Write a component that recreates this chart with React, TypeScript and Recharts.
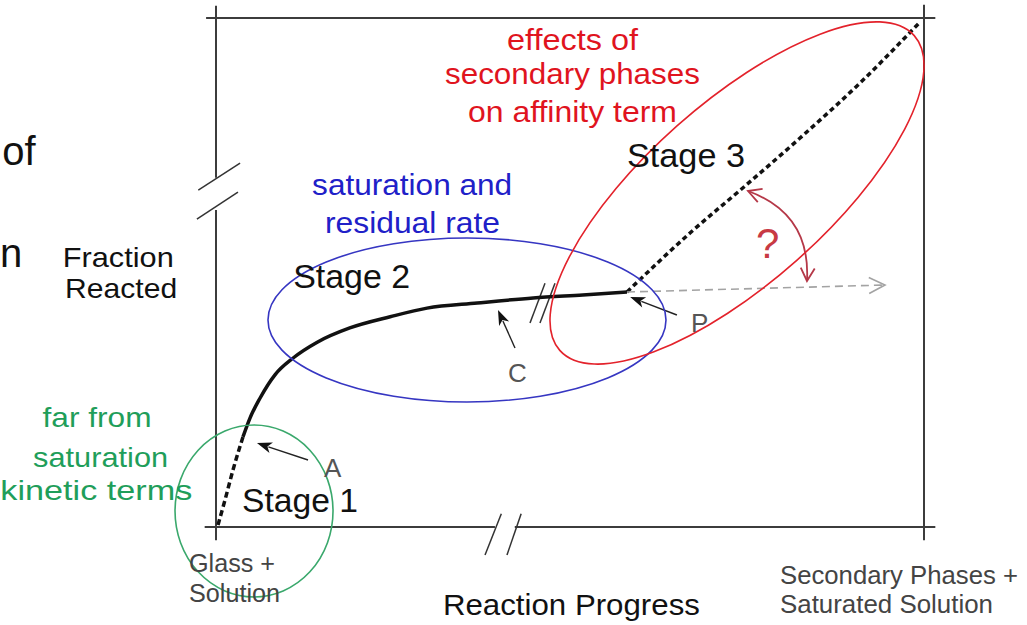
import React from 'react';
import { ComposedChart, Line, XAxis, YAxis, ReferenceLine, ReferenceDot } from 'recharts';

// ---- curve values (x = reaction progress, y = fraction reacted, 0..100) ----
const stage1X = [0.28, 1.27, 2.4, 3.81];
const stage1Y = [0.39, 5.3, 11.2, 17.7];
const stage2X = [3.81, 4.8, 6.21, 8.33, 10.9, 14.3, 18.9, 24.6, 29.8, 36.9, 44.8, 51.8, 58.05];
const stage2Y = [17.7, 21.4, 25.3, 29.9, 33.2, 36.3, 39.1, 41.3, 43.0, 44.0, 45.0, 45.6, 46.17];
const stage3X = [58.05, 66.95, 74.72, 82.49, 90.96, 99.44];
const stage3Y = [46.17, 57.76, 66.99, 76.42, 87.23, 99.21];

const toPoints = (xs: number[], ys: number[]) => xs.map((x, i) => ({ x, y: ys[i] }));
const stage1 = toPoints(stage1X, stage1Y);
const stage2 = toPoints(stage2X, stage2Y);
const stage3 = toPoints(stage3X, stage3Y);

// ---- frame (axis lines with breaks), data coordinates ----
const frameSegments: [number, number][][] = [
  [[0, 68.6], [0, 102.4]],
  [[0, -2.6], [0, 62.3]],
  [[-1.4, 100], [101.6, 100]],
  [[100, -2.6], [100, 102.6]],
  [[-1.6, 0], [39.4, 0]],
  [[42.2, 0], [101.6, 0]],
];
const breakSegments: [number, number][][] = [
  [[38.0, -5.5], [40.3, 2.6]],
  [[41.1, -5.5], [43.1, 2.6]],
  [[-2.5, 66.2], [3.4, 71.5]],
  [[-2.7, 60.5], [3.1, 65.8]],
  [[44.35, 40.1], [46.47, 47.9]],
  [[45.76, 40.1], [47.88, 47.9]],
];

// ---- ellipses ----
const ellipses = [
  { x: 5.37, y: 3.14, rx: 79, ry: 86, rot: 0, color: '#3aa86c' },
  { x: 35.45, y: 40.67, rx: 199, ry: 82, rot: 0, color: '#3636c2' },
  { x: 73.59, y: 65.62, rx: 237, ry: 90, rot: -41.6, color: '#e3222b' },
];

// ---- pointer arrows ----
const pointerArrows: [number, number][][] = [
  [[13.0, 13.16], [5.79, 16.5]],
  [[42.23, 35.17], [39.83, 42.63]],
  [[65.1, 41.65], [58.5, 45.19]],
];
const grayArrow: [number, number][] = [[58.05, 46.17], [94.49, 47.54]];
const curvedArrow: [number, number][] = [[75.14, 66.01], [83.47, 48.33]];

// ---- labels ----
type Lbl = { t: string; x: number; y: number; s: number; c: string; a: 'start' | 'middle'; w?: number };
const labels: Lbl[] = [
  { t: 'of', x: -30.2, y: 71.1, s: 40, c: '#111', a: 'start' },
  { t: 'n', x: -30.5, y: 51.1, s: 40, c: '#111', a: 'start' },
  { t: 'Fraction', x: -13.8, y: 51.1, s: 28, c: '#111', a: 'middle', w: 111 },
  { t: 'Reacted', x: -13.4, y: 45.0, s: 28, c: '#111', a: 'middle', w: 112 },
  { t: 'far from', x: -16.8, y: 19.65, s: 28, c: '#1f9e5a', a: 'middle', w: 109 },
  { t: 'saturation', x: -16.3, y: 11.8, s: 28, c: '#1f9e5a', a: 'middle', w: 135 },
  { t: 'kinetic terms', x: -16.9, y: 5.3, s: 28, c: '#1f9e5a', a: 'middle', w: 192 },
  { t: 'Stage 1', x: 3.67, y: 2.95, s: 33, c: '#111', a: 'start', w: 116 },
  { t: 'Stage 2', x: 10.9, y: 46.95, s: 33, c: '#111', a: 'start', w: 117 },
  { t: 'Stage 3', x: 58.05, y: 70.73, s: 33, c: '#111', a: 'start', w: 118 },
  { t: 'saturation and', x: 27.7, y: 65.2, s: 29, c: '#2020c8', a: 'middle', w: 200 },
  { t: 'residual rate', x: 27.75, y: 57.76, s: 29, c: '#2020c8', a: 'middle', w: 175 },
  { t: 'effects of', x: 50.35, y: 93.7, s: 29, c: '#e0141e', a: 'middle', w: 131 },
  { t: 'secondary phases', x: 50.35, y: 87.0, s: 29, c: '#e0141e', a: 'middle', w: 255 },
  { t: 'on affinity term', x: 50.35, y: 79.6, s: 29, c: '#e0141e', a: 'middle', w: 209 },
  { t: '?', x: 76.27, y: 52.85, s: 42, c: '#c83a44', a: 'start' },
  { t: 'A', x: 15.25, y: 9.82, s: 26, c: '#555', a: 'start' },
  { t: 'C', x: 41.24, y: 28.49, s: 26, c: '#555', a: 'start' },
  { t: 'P', x: 67.09, y: 38.31, s: 26, c: '#555', a: 'start' },
  { t: 'Glass +', x: -3.81, y: -8.84, s: 25, c: '#444', a: 'start', w: 86 },
  { t: 'Solution', x: -3.81, y: -14.73, s: 25, c: '#444', a: 'start', w: 91 },
  { t: 'Reaction Progress', x: 50.2, y: -17.3, s: 30, c: '#111', a: 'middle', w: 257 },
  { t: 'Secondary Phases +', x: 79.66, y: -11.2, s: 25, c: '#444', a: 'start', w: 238 },
  { t: 'Saturated Solution', x: 79.66, y: -16.9, s: 25, c: '#444', a: 'start', w: 213 },
];

const FONT = '"Liberation Sans", Arial, sans-serif';

const makeText = (l: Lbl) => (p: any) => (
  <text
    x={p.cx}
    y={p.cy}
    fontSize={l.s}
    fill={l.c}
    textAnchor={l.a}
    fontFamily={FONT}
    {...(l.w ? { textLength: l.w, lengthAdjust: 'spacingAndGlyphs' } : {})}
  >
    {l.t}
  </text>
);

const makeEllipse = (e: typeof ellipses[number]) => (p: any) => (
  <ellipse
    cx={p.cx}
    cy={p.cy}
    rx={e.rx}
    ry={e.ry}
    fill="none"
    stroke={e.color}
    strokeWidth={1.6}
    transform={`rotate(${e.rot} ${p.cx} ${p.cy})`}
  />
);

const PointerShape = (p: any) => {
  const { x1, y1, x2, y2 } = p;
  const dx = x2 - x1, dy = y2 - y1;
  const L = Math.hypot(dx, dy) || 1;
  const ux = dx / L, uy = dy / L;
  const hl = 15, hw = 5.5;
  const bx = x2 - ux * hl, by = y2 - uy * hl;
  const nx = -uy, ny = ux;
  return (
    <g>
      <line x1={x1} y1={y1} x2={bx + ux * 3} y2={by + uy * 3} stroke="#222" strokeWidth={1.4} />
      <polygon
        points={`${x2},${y2} ${bx + nx * hw},${by + ny * hw} ${bx + ux * 4},${by + uy * 4} ${bx - nx * hw},${by - ny * hw}`}
        fill="#111"
      />
    </g>
  );
};

const GrayArrowShape = (p: any) => {
  const { x1, y1, x2, y2 } = p;
  const dx = x2 - x1, dy = y2 - y1;
  const L = Math.hypot(dx, dy) || 1;
  const ux = dx / L, uy = dy / L;
  const nx = -uy, ny = ux;
  const hl = 16, hw = 8;
  return (
    <g stroke="#a3a3a3" strokeWidth={1.6} fill="none">
      <line x1={x1} y1={y1} x2={x2} y2={y2} strokeDasharray="8 5" />
      <polyline
        points={`${x2 - ux * hl + nx * hw},${y2 - uy * hl + ny * hw} ${x2},${y2} ${x2 - ux * hl - nx * hw},${y2 - uy * hl - ny * hw}`}
      />
    </g>
  );
};

const CurvedArrowShape = (p: any) => {
  const { x1, y1, x2, y2 } = p;
  const mx = (x1 + x2) / 2, my = (y1 + y2) / 2;
  const dx = x2 - x1, dy = y2 - y1;
  const L = Math.hypot(dx, dy) || 1;
  const nx = dy / L, ny = -dx / L;
  const bulge = 40;
  const cx = mx + nx * bulge, cy = my + ny * bulge;
  const head = (tx: number, ty: number, fx: number, fy: number) => {
    const ddx = tx - fx, ddy = ty - fy;
    const l = Math.hypot(ddx, ddy) || 1;
    const ux = ddx / l, uy = ddy / l;
    const vx = -uy, vy = ux;
    const hl = 13, hw = 7;
    return `${tx - ux * hl + vx * hw},${ty - uy * hl + vy * hw} ${tx},${ty} ${tx - ux * hl - vx * hw},${ty - uy * hl - vy * hw}`;
  };
  return (
    <g stroke="#b53848" strokeWidth={1.8} fill="none">
      <path d={`M${x1},${y1} Q${cx},${cy} ${x2},${y2}`} />
      <polyline points={head(x1, y1, cx, cy)} />
      <polyline points={head(x2, y2, cx, cy)} />
    </g>
  );
};

export default function App() {
  return (
    <div style={{ position: 'absolute', left: 0, top: 0, width: 1027, height: 625, background: '#fff' }}>
      <ComposedChart width={1027} height={625} margin={{ top: 18, right: 103, bottom: 98, left: 216 }}>
        <XAxis type="number" dataKey="x" domain={[0, 100]} hide allowDataOverflow />
        <YAxis type="number" dataKey="y" domain={[0, 100]} hide allowDataOverflow />

        {frameSegments.map((s, i) => (
          <ReferenceLine
            key={`f${i}`}
            segment={[{ x: s[0][0], y: s[0][1] }, { x: s[1][0], y: s[1][1] }]}
            stroke="#3c3c3c"
            strokeWidth={2}
            ifOverflow="visible"
          />
        ))}
        {breakSegments.map((s, i) => (
          <ReferenceLine
            key={`b${i}`}
            segment={[{ x: s[0][0], y: s[0][1] }, { x: s[1][0], y: s[1][1] }]}
            stroke="#333"
            strokeWidth={1.5}
            ifOverflow="visible"
          />
        ))}

        {ellipses.map((e, i) => (
          <ReferenceDot key={`e${i}`} x={e.x} y={e.y} r={1} ifOverflow="visible" shape={makeEllipse(e)} />
        ))}

        <Line data={stage1} dataKey="y" type="monotone" stroke="#111" strokeWidth={3.5} strokeDasharray="6 3.5" dot={false} isAnimationActive={false} />
        <Line data={stage2} dataKey="y" type="monotone" stroke="#111" strokeWidth={3.5} dot={false} isAnimationActive={false} />
        <Line data={stage3} dataKey="y" type="monotone" stroke="#111" strokeWidth={3.5} strokeDasharray="5 3.5" dot={false} isAnimationActive={false} />

        {pointerArrows.map((s, i) => (
          <ReferenceLine
            key={`p${i}`}
            segment={[{ x: s[0][0], y: s[0][1] }, { x: s[1][0], y: s[1][1] }]}
            ifOverflow="visible"
            shape={PointerShape}
          />
        ))}
        <ReferenceLine
          segment={[{ x: grayArrow[0][0], y: grayArrow[0][1] }, { x: grayArrow[1][0], y: grayArrow[1][1] }]}
          ifOverflow="visible"
          shape={GrayArrowShape}
        />
        <ReferenceLine
          segment={[{ x: curvedArrow[0][0], y: curvedArrow[0][1] }, { x: curvedArrow[1][0], y: curvedArrow[1][1] }]}
          ifOverflow="visible"
          shape={CurvedArrowShape}
        />

        {labels.map((l, i) => (
          <ReferenceDot key={`l${i}`} x={l.x} y={l.y} r={1} ifOverflow="visible" shape={makeText(l)} />
        ))}
      </ComposedChart>
    </div>
  );
}
